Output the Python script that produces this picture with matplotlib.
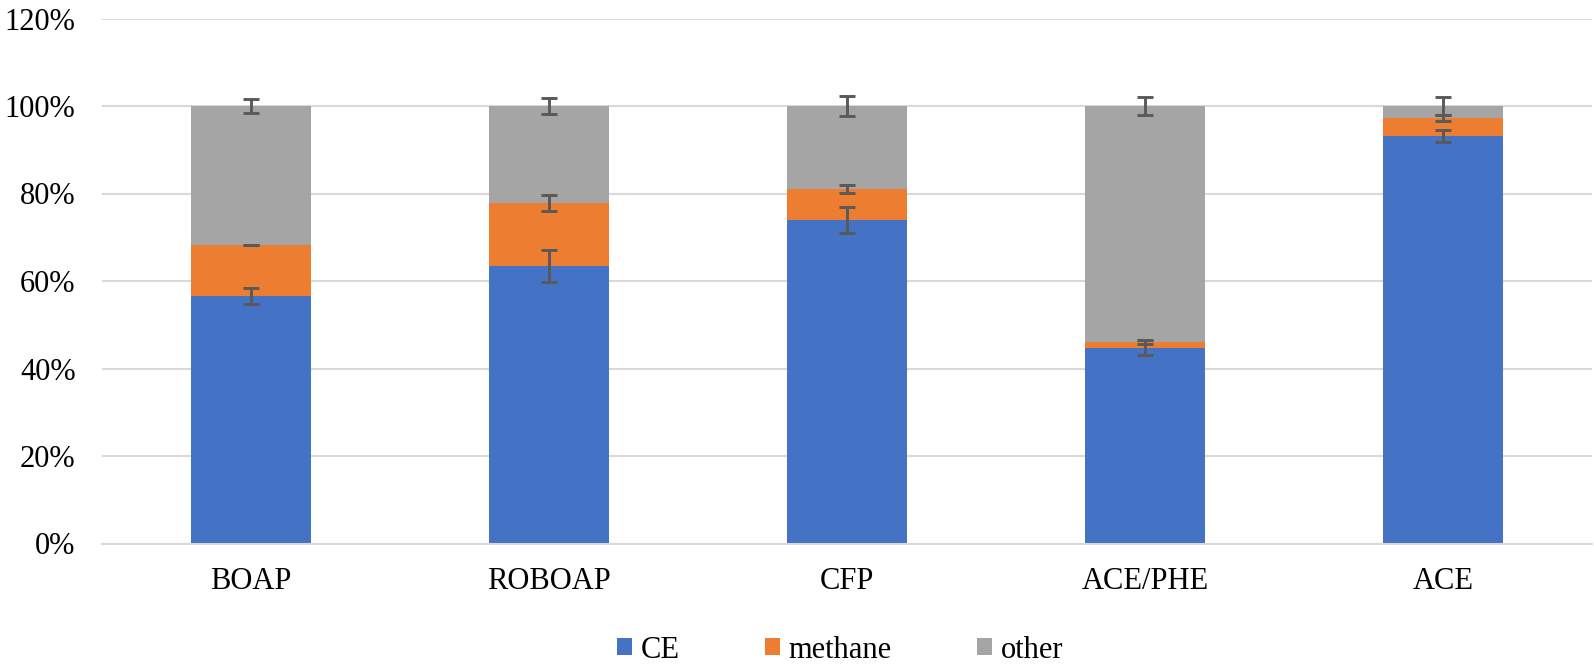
import matplotlib
matplotlib.use("Agg")
import matplotlib.pyplot as plt
import numpy as np

categories = ["BOAP", "ROBOAP", "CFP", "ACE/PHE", "ACE"]
ce = [56.6, 63.4, 73.9, 44.8, 93.2]
methane = [11.6, 14.4, 7.2, 1.3, 4.1]
other = [31.8, 22.2, 18.9, 53.9, 2.7]
ce_err = [1.9, 3.7, 3.0, 1.7, 1.4]
methane_err = [0.0, 1.9, 0.95, 0.4, 0.7]
other_err = [1.7, 1.85, 2.2, 2.15, 2.0]

plt.rcParams['font.family'] = ['Liberation Serif', 'DejaVu Serif']

fig = plt.figure(figsize=(15.94, 6.70), dpi=100)
ax = fig.add_axes([102/1594, 126.5/670, 1490/1594, 525/670])

x = np.arange(len(categories))
w = 0.4
ce_a = np.array(ce); me_a = np.array(methane); ot_a = np.array(other)
colors = ["#4472c4", "#ed7d31", "#a5a5a5"]
ax.bar(x, ce_a, w, color=colors[0], label="CE", zorder=2)
ax.bar(x, me_a, w, bottom=ce_a, color=colors[1], label="methane", zorder=2)
ax.bar(x, ot_a, w, bottom=ce_a + me_a, color=colors[2], label="other", zorder=2)

ekw = dict(fmt='none', ecolor='#595959', elinewidth=2.1, capsize=5.8, capthick=2.1, zorder=3)
ax.errorbar(x, ce_a, yerr=ce_err, **ekw)
ax.errorbar(x, ce_a + me_a, yerr=methane_err, **ekw)
ax.errorbar(x, ce_a + me_a + ot_a, yerr=other_err, **ekw)

ax.set_ylim(0, 120)
ax.set_xlim(-0.5, len(categories) - 0.5)
ax.set_yticks(np.arange(0, 121, 20))
ax.set_yticklabels([f"{v}%" for v in range(0, 121, 20)])
ax.set_xticks(x)
ax.set_xticklabels(categories)
ax.tick_params(axis='both', length=0, labelsize=22)
ax.tick_params(axis='y', pad=19)
ax.tick_params(axis='x', pad=17)
ax.grid(axis='y', color='#d9d9d9', linewidth=1.5, zorder=0)
for s in ['top', 'right', 'left']:
    ax.spines[s].set_visible(False)
ax.spines['bottom'].set_color('#d9d9d9')
ax.spines['bottom'].set_linewidth(1.5)

fig.legend(loc='center', bbox_to_anchor=(840/1594, 1 - 650/670), ncol=3, frameon=False,
           fontsize=22, handlelength=0.5, handleheight=0.5, handletextpad=0.27,
           columnspacing=2.8)

fig.savefig("out.png", dpi=100)
